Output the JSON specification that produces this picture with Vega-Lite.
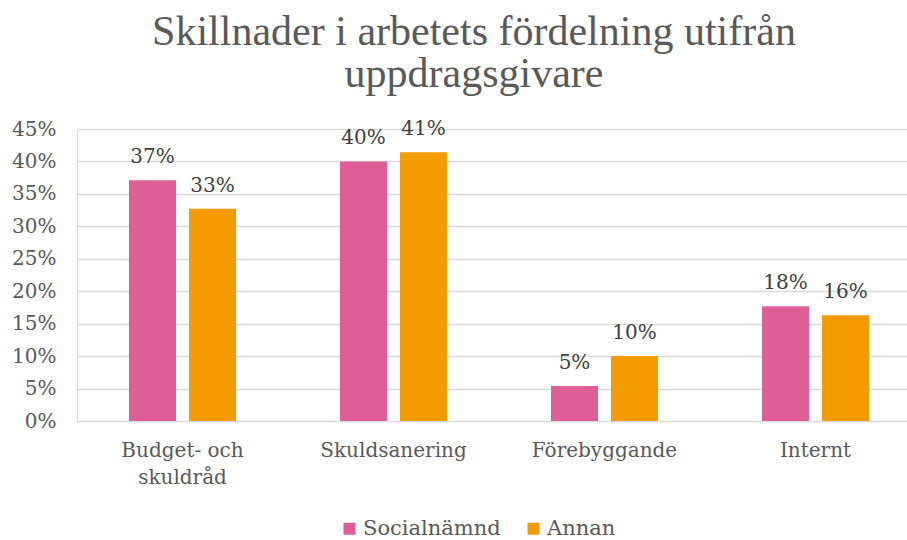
{
  "$schema": "https://vega.github.io/schema/vega-lite/v6.json",
  "width": 830,
  "height": 292,
  "autosize": {"type": "none"},
  "padding": {"left": 77, "top": 129, "right": 0, "bottom": 119},
  "background": "white",
  "title": {
    "text": ["Skillnader i arbetets fördelning utifrån", "uppdragsgivare"],
    "font": "Liberation Serif",
    "fontSize": 42,
    "fontWeight": "normal",
    "color": "#595959",
    "lineHeight": 42,
    "anchor": "middle",
    "dx": -18,
    "offset": 23
  },
  "data": {
    "values": [
      {"kategori": "Budget- och skuldråd", "grupp": "Socialnämnd", "andel": 0.371},
      {"kategori": "Budget- och skuldråd", "grupp": "Annan", "andel": 0.327},
      {"kategori": "Skuldsanering", "grupp": "Socialnämnd", "andel": 0.400},
      {"kategori": "Skuldsanering", "grupp": "Annan", "andel": 0.414},
      {"kategori": "Förebyggande", "grupp": "Socialnämnd", "andel": 0.054},
      {"kategori": "Förebyggande", "grupp": "Annan", "andel": 0.100},
      {"kategori": "Internt", "grupp": "Socialnämnd", "andel": 0.177},
      {"kategori": "Internt", "grupp": "Annan", "andel": 0.163}
    ]
  },
  "encoding": {
    "x": {
      "field": "kategori",
      "type": "nominal",
      "sort": ["Budget- och skuldråd", "Skuldsanering", "Förebyggande", "Internt"],
      "scale": {"range": [0, 844], "paddingInner": 0, "paddingOuter": 0},
      "axis": {
        "title": null,
        "labelAngle": 0,
        "labelFont": "DejaVu Serif",
        "labelFontSize": 20,
        "labelColor": "#595959",
        "labelPadding": 19,
        "labelLineHeight": 27,
        "ticks": false,
        "domain": false,
        "labelExpr": "datum.value == 'Budget- och skuldråd' ? ['Budget- och', 'skuldråd'] : datum.value"
      }
    },
    "xOffset": {
      "field": "grupp",
      "type": "nominal",
      "sort": ["Socialnämnd", "Annan"],
      "scale": {"paddingInner": 0.2167, "paddingOuter": 0.867}
    },
    "y": {
      "field": "andel",
      "type": "quantitative",
      "scale": {"domain": [0, 0.45], "nice": false},
      "axis": {
        "title": null,
        "format": ".0%",
        "values": [0, 0.05, 0.1, 0.15, 0.2, 0.25, 0.3, 0.35, 0.4, 0.45],
        "labelFont": "DejaVu Serif",
        "labelFontSize": 20,
        "labelColor": "#595959",
        "labelPadding": 21,
        "ticks": false,
        "domain": false,
        "gridColor": "#D9D9D9",
        "gridWidth": 1.5
      }
    }
  },
  "layer": [
    {
      "mark": {"type": "bar"},
      "encoding": {
        "color": {
          "field": "grupp",
          "type": "nominal",
          "sort": ["Socialnämnd", "Annan"],
          "scale": {"domain": ["Socialnämnd", "Annan"], "range": ["#DE5E98", "#F49B00"]},
          "legend": {
            "title": null,
            "orient": "none",
            "direction": "horizontal",
            "legendX": 262,
            "legendY": 389,
            "symbolType": "square",
            "symbolSize": 144,
            "symbolStrokeWidth": 0,
            "symbolOpacity": 1,
            "labelFont": "DejaVu Serif",
            "labelFontSize": 21,
            "labelColor": "#595959",
            "labelOffset": 3,
            "columnPadding": 22
          }
        }
      }
    },
    {
      "mark": {
        "type": "text",
        "baseline": "alphabetic",
        "dy": -17,
        "font": "DejaVu Serif",
        "fontSize": 20,
        "color": "#404040"
      },
      "encoding": {
        "text": {"field": "andel", "type": "quantitative", "format": ".0%"}
      }
    }
  ]
}
